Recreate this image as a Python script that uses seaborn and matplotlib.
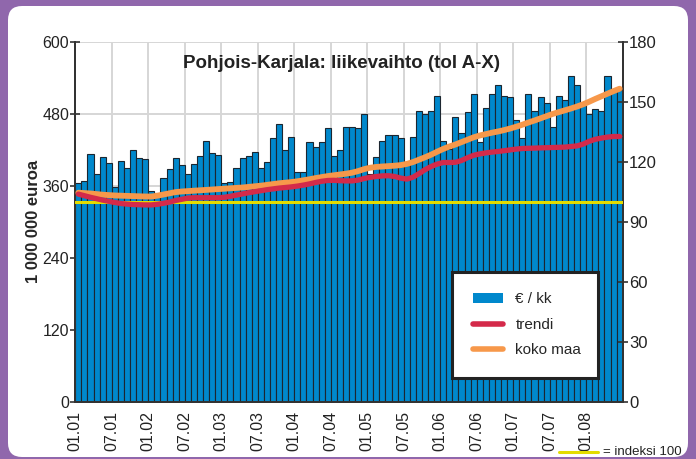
import numpy as np
import pandas as pd
import seaborn as sns
import matplotlib
matplotlib.use("Agg")
import matplotlib.pyplot as plt
from matplotlib.patches import Patch, FancyBboxPatch
from matplotlib.lines import Line2D
from matplotlib.transforms import IdentityTransform

# ---- data -------------------------------------------------------------
eur_kk = [364, 367, 412, 379, 407, 398, 358, 401, 389, 419, 406, 405,
          351, 348, 372, 387, 406, 394, 379, 396, 409, 434, 414, 411,
          364, 366, 390, 406, 409, 416, 390, 400, 439, 462, 419, 441,
          383, 382, 433, 425, 432, 456, 410, 420, 457, 457, 456, 479,
          380, 408, 434, 444, 444, 439, 400, 441, 485, 479, 485, 509,
          434, 421, 474, 447, 483, 512, 433, 489, 513, 527, 510, 508,
          469, 440, 512, 484, 507, 498, 458, 509, 503, 543, 527, 494,
          480, 487, 484, 543, 520, 519]

trendi = [103.8, 103.0, 102.2, 101.5, 100.8, 100.2, 99.6, 99.1, 98.8, 98.6, 98.5, 98.4,
          98.4, 98.7, 99.2, 99.8, 100.6, 101.2, 101.8, 102.0, 102.0, 102.0, 102.0, 102.0,
          102.2, 102.7, 103.3, 103.9, 104.5, 105.0, 105.5, 106.0, 106.4, 106.8, 107.1, 107.4,
          107.8, 108.3, 108.9, 109.6, 110.2, 110.6, 110.7, 110.5, 110.4, 110.4, 110.8, 111.6,
          112.2, 112.6, 112.9, 113.0, 112.6, 111.8, 111.3, 112.2, 114.0, 116.0, 117.6, 118.8,
          119.6, 119.6, 119.7, 120.6, 122.0, 123.2, 123.9, 124.4, 124.8, 125.1, 125.5, 125.9,
          126.3, 126.6, 126.7, 126.8, 126.9, 127.0, 127.1, 127.2, 127.3, 127.6, 127.9, 128.8,
          130.2, 131.2, 131.8, 132.3, 132.6, 132.6]

koko_maa = [104.5, 104.3, 104.1, 103.8, 103.5, 103.3, 103.1, 103.0, 102.9, 102.8, 102.7, 102.6,
            102.6, 103.0, 103.6, 104.2, 104.8, 105.1, 105.3, 105.5, 105.7, 105.9, 106.1, 106.3,
            106.5, 106.7, 106.9, 107.1, 107.4, 107.7, 108.0, 108.4, 108.8, 109.2, 109.5, 109.8,
            110.2, 110.7, 111.2, 111.8, 112.3, 112.8, 113.2, 113.6, 114.0, 114.5, 115.3, 116.3,
            117.0, 117.4, 117.6, 117.8, 118.0, 118.3, 118.9, 119.8, 121.0, 122.2, 123.5, 125.0,
            126.4, 127.6, 128.6, 129.8, 131.0, 132.2, 133.1, 133.8, 134.5, 135.1, 135.8, 136.6,
            137.5, 138.5, 139.6, 140.6, 141.7, 142.8, 143.9, 144.8, 145.7, 146.6, 147.6, 148.7,
            150.0, 151.4, 152.7, 154.0, 155.3, 156.5]

tick_labels = ["01.01", "07.01", "01.02", "07.02", "01.03", "07.03", "01.04", "07.04",
               "01.05", "07.05", "01.06", "07.06", "01.07", "07.07", "01.08"]
left_ticks = [0, 120, 240, 360, 480, 600]
right_ticks = [0, 30, 60, 90, 120, 150, 180]
index_base = 100

title = "Pohjois-Karjala: liikevaihto (tol A-X)"
ylabel = "1 000 000 euroa"
legend_labels = ["€ / kk", "trendi", "koko maa"]
index_note = "= indeksi 100"

# ---- style ------------------------------------------------------------
sns.set_style("white")
plt.rcParams['font.family'] = ['Liberation Sans', 'DejaVu Sans']

BLUE = '#0088CC'
RED = '#D42A4A'
ORANGE = '#F7984A'
YELLOW = '#E3DC00'
PURPLE = '#9067AC'
GRID = '#D6D6D6'
AXC = '#333333'

fig = plt.figure(figsize=(6.96, 4.59), dpi=100)
fig.patch.set_facecolor(PURPLE)
bg = FancyBboxPatch((8, 2), 680, 451, boxstyle="round,pad=0,rounding_size=14",
                    facecolor='white', edgecolor='none', transform=IdentityTransform(),
                    zorder=-10)
fig.patches.append(bg)

ax = fig.add_axes([75.3 / 696, (459 - 401.7) / 459, 547.4 / 696, 360 / 459])
ax.set_facecolor('white')

n = len(eur_kk)
df = pd.DataFrame({"kk": np.arange(n), "eur": eur_kk,
                   "trendi": trendi, "koko_maa": koko_maa})

sns.barplot(data=df, x="kk", y="eur", color=BLUE, width=1.0, saturation=1,
            edgecolor='#1c2630', linewidth=0.8, ax=ax, zorder=2)

ax.set_xlim(-0.5, n - 0.5)
ax.set_ylim(0, 600)
ax.set_yticks(left_ticks)
ax.set_yticklabels([str(t) for t in left_ticks])
xt = [i * 6 - 0.5 for i in range(len(tick_labels))]
ax.set_xticks(xt)
ax.set_xticklabels(tick_labels, rotation=90)
ax.set_axisbelow(True)
ax.grid(True, color=GRID, linewidth=1.4, zorder=0)
ax.set_xlabel("")
ax.set_ylabel(ylabel, fontsize=12, fontweight='bold')
ax.yaxis.set_label_coords(-0.062, 0.5)
ax.tick_params(axis='y', direction='inout', length=7, width=1.2, pad=1,
               labelsize=11.5, colors=AXC, labelcolor='#222222')
ax.tick_params(axis='x', direction='inout', length=7, width=1.2, pad=3,
               labelsize=11.5, colors=AXC, labelcolor='#222222')
ax.spines['top'].set_visible(False)
for s in ['left', 'bottom', 'right']:
    ax.spines[s].set_color(AXC)
    ax.spines[s].set_linewidth(1.4)

ax2 = ax.twinx()
ax2.set_ylim(0, 180)
ax2.axhline(index_base, color=YELLOW, linewidth=2.2, zorder=3)
sns.lineplot(data=df, x="kk", y="koko_maa", color=ORANGE, linewidth=4.2,
             ax=ax2, zorder=4, solid_capstyle='round')
sns.lineplot(data=df, x="kk", y="trendi", color=RED, linewidth=3.8,
             ax=ax2, zorder=5, solid_capstyle='round')
ax2.set_xlim(-0.5, n - 0.5)
ax2.set_yticks(right_ticks)
ax2.set_yticklabels([str(t) for t in right_ticks])
ax2.set_ylabel("")
ax2.tick_params(axis='y', direction='inout', length=7, width=1.2, pad=1,
                labelsize=12, colors=AXC, labelcolor='#222222')
ax2.spines['top'].set_visible(False)
for s in ['left', 'bottom', 'right']:
    ax2.spines[s].set_color(AXC)
    ax2.spines[s].set_linewidth(1.4)

ax2.text(0.486, 0.94, title, transform=ax2.transAxes, ha='center', va='center',
         fontsize=13.5, fontweight='bold', color='#222222', zorder=6)

handles = [Patch(facecolor=BLUE, edgecolor='none'),
           Line2D([0], [0], color=RED, linewidth=4, solid_capstyle='round'),
           Line2D([0], [0], color=ORANGE, linewidth=4, solid_capstyle='round')]
leg = ax2.legend(handles, legend_labels, loc='lower left',
                 bbox_to_anchor=(0.688, 0.066, 0.267, 0.294), mode='expand',
                 fontsize=11, frameon=True, fancybox=False, framealpha=1,
                 edgecolor='#222222', borderpad=1.35, labelspacing=0.75,
                 handlelength=2.0, handleheight=0.6, handletextpad=0.8,
                 borderaxespad=0)
leg.get_frame().set_linewidth(2.2)
leg.set_zorder(10)

fig.add_artist(Line2D([559 / 696, 598 / 696], [0.016, 0.016], color=YELLOW,
                      linewidth=2.2, transform=fig.transFigure))
fig.text(603 / 696, 0.016, index_note, ha='left', va='center', fontsize=9.5,
         color='#222222')

fig.savefig("out.png", dpi=100, facecolor=fig.get_facecolor())
